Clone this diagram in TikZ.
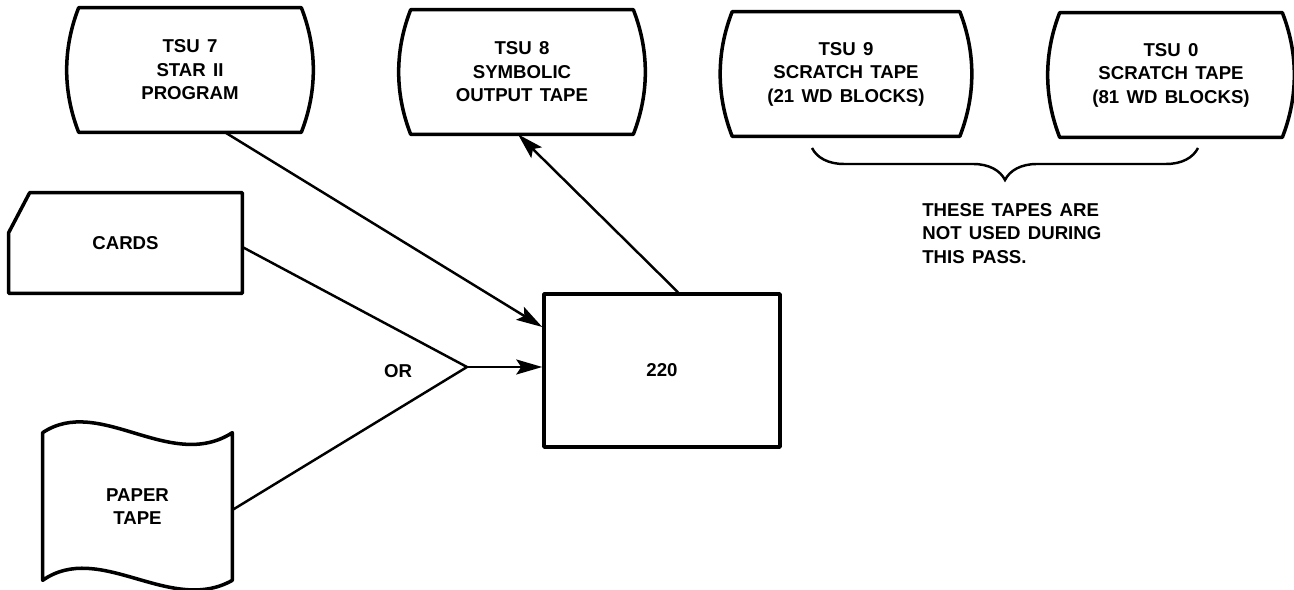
\documentclass[tikz,border=0pt]{standalone}
\usepackage{fontspec}
\setmainfont{Liberation Sans}[WordSpace=1.4]
\usetikzlibrary{arrows.meta, positioning, calc, decorations.pathreplacing}

\begin{document}
\begin{tikzpicture}[x=0.02cm, y=-0.02cm,
  txt/.style={inner sep=0pt, align=center, font=\fontsize{10.6}{13.4}\selectfont\bfseries},
  tape/.style={txt, minimum width=4.44cm, minimum height=2.48cm},
  outline/.style={line width=2pt, line join=round},
  link/.style={line width=1.4pt},
  arr/.style={link, -{Stealth[length=0.52cm, width=0.3cm, inset=0.1cm]}}
]
  \useasboundingbox (0,0) rectangle (1294,590);

  \node[tape] (tsu7) at (190,70) {TSU 7\\STAR II\\PROGRAM};
  \node[tape] (tsu8) at (522,72) {TSU 8\\SYMBOLIC\\OUTPUT TAPE};
  \node[tape, minimum width=4.54cm] (tsu9) at (846,74) {TSU 9\\SCRATCH TAPE\\(21 WD BLOCKS)};
  \node[tape] (tsu0) at (1171,75) {TSU 0\\SCRATCH TAPE\\(81 WD BLOCKS)};

  \foreach \t in {tsu7,tsu8,tsu9,tsu0}
    \draw[outline] (\t.north west) -- (\t.north east)
      .. controls +(16,41) and +(16,-41) .. (\t.south east) -- (\t.south west)
      .. controls +(-16,-41) and +(-16,41) .. (\t.north west) -- cycle;

  \node[txt, minimum width=4.66cm, minimum height=2cm] (cards) at (125.5,243) {CARDS};
  \draw[outline] ($(cards.north west)+(21,0)$) -- (cards.north east) -- (cards.south east)
    -- (cards.south west) -- ($(cards.north west)+(0,40)$) -- cycle;

  \node[txt, minimum width=3.78cm, minimum height=2.94cm] (paper) at (137.5,506.5) {PAPER\\TAPE};
  \draw[outline] (paper.north west) .. controls +(57,-38) and +(-62,40) .. (paper.north east)
    -- (paper.south east) .. controls +(-62,35) and +(57,-40) .. (paper.south west) -- cycle;

  \node[txt, draw, outline, minimum width=4.72cm, minimum height=3.06cm] (cpu) at (662,370.5) {220};
  \node[txt] (or) at (398,371) {OR};
  \coordinate (join) at (467,367);

  \draw[arr] ($(tsu7.south)+(35,0)$) -- ($(cpu.west)+(0,-43.5)$);
  \draw[arr] ($(cpu.north)+(16,0)$) -- ($(tsu8.south)+(-4,0)$);
  \draw[link] ($(cards.east)+(0,4)$) -- (join);
  \draw[link] ($(paper.east)+(0,3.5)$) -- (join);
  \draw[arr] (join) -- (cpu.west |- join);

  \coordinate (bl) at (812,148);
  \coordinate (br) at (1198,148);
  \draw[link, decorate, decoration={brace, mirror, amplitude=0.64cm}] (bl) -- (br);
  \node[txt, align=left, anchor=north west] (note) at (922,203) {THESE TAPES ARE\\NOT USED DURING\\THIS PASS.};
\end{tikzpicture}
\end{document}
